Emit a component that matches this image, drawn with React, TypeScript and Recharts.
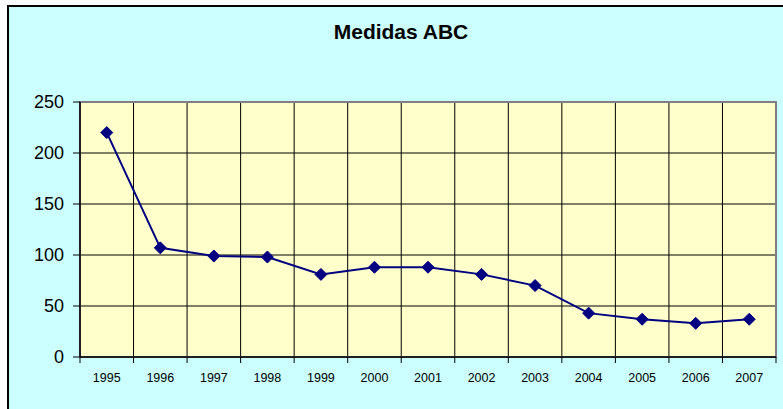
import React from 'react';
import { LineChart, Line, XAxis, YAxis, CartesianGrid, ReferenceArea } from 'recharts';

const years = ['1995', '1996', '1997', '1998', '1999', '2000', '2001', '2002', '2003', '2004', '2005', '2006', '2007'];
const medidas = [220, 107, 99, 98, 81, 88, 88, 81, 70, 43, 37, 33, 37];
const yTicks = [0, 50, 100, 150, 200, 250];

const data = years.map((year, i) => ({ year, slot: i + 0.5, value: medidas[i] }));
// boundaries between the year columns (vertical grid lines)
const edgeTicks = [...years.map((_, i) => i), years.length];

const NAVY = '#000080';
const LABEL_GAP = 16;

const Diamond = (props: any) => {
  const { cx, cy } = props;
  if (cx == null || cy == null) return null;
  const r = 6;
  return (
    <polygon
      points={`${cx},${cy - r} ${cx + r},${cy} ${cx},${cy + r} ${cx - r},${cy}`}
      fill={NAVY}
      stroke={NAVY}
      strokeWidth={1}
    />
  );
};

// year label centred in its column, small tick marks on the column edges
const YearTick = (props: any) => {
  const { x, y, payload, index, width, visibleTicksCount } = props;
  const band = width / visibleTicksCount;
  const axisY = y - LABEL_GAP;
  return (
    <g>
      <line x1={x - band / 2} x2={x - band / 2} y1={axisY} y2={axisY + 6} stroke="#000" />
      {index === visibleTicksCount - 1 && (
        <line x1={x + band / 2} x2={x + band / 2} y1={axisY} y2={axisY + 6} stroke="#000" />
      )}
      <text x={x} y={y} dy="0.71em" textAnchor="middle" fontSize={12.5} fill="#000">
        {payload.value}
      </text>
    </g>
  );
};

export default function App() {
  return (
    <div
      style={{
        position: 'absolute',
        left: 0,
        top: 0,
        width: 783,
        height: 409,
        background: '#ffffff',
        overflow: 'hidden',
        fontFamily: '"Liberation Sans", Arial, sans-serif',
      }}
    >
      <div
        style={{
          position: 'absolute',
          left: 7,
          top: 5,
          width: 800,
          height: 420,
          background: '#CCFFFF',
          borderLeft: '2px solid #000',
          borderTop: '2px solid #000',
        }}
      />
      <div
        style={{
          position: 'absolute',
          left: 401,
          top: 21,
          transform: 'translateX(-50%)',
          fontSize: 21,
          fontWeight: 'bold',
          lineHeight: 1,
          whiteSpace: 'nowrap',
          color: '#000',
        }}
      >
        Medidas ABC
      </div>
      <div style={{ position: 'absolute', left: 0, top: 0 }}>
        <LineChart
          width={783}
          height={409}
          data={data}
          margin={{ top: 102, right: 7, bottom: 22, left: 0 }}
          style={{ fontFamily: '"Liberation Sans", Arial, sans-serif' }}
        >
          <CartesianGrid
            xAxisId="edges"
            fill="#FFFFCC"
            fillOpacity={1}
            stroke="#000"
            strokeWidth={1}
          />
          <XAxis
            xAxisId="edges"
            dataKey="slot"
            type="number"
            domain={[0, years.length]}
            ticks={edgeTicks}
            interval={0}
            height={0}
            tick={{ fill: 'transparent', fontSize: 1 }}
            axisLine={false}
            tickLine={false}
          />
          <XAxis
            xAxisId="cat"
            dataKey="year"
            scale="band"
            interval={0}
            height={30}
            tickSize={0}
            tickMargin={LABEL_GAP}
            axisLine={{ stroke: '#000', strokeWidth: 1.5 }}
            tickLine={false}
            tick={<YearTick />}
          />
          <YAxis
            domain={[0, 250]}
            ticks={yTicks}
            interval={0}
            width={80}
            tickSize={7}
            tickMargin={9}
            axisLine={{ stroke: '#000', strokeWidth: 1.5 }}
            tickLine={{ stroke: '#000' }}
            tick={{ fontSize: 18, fill: '#000' }}
          />
          <ReferenceArea
            xAxisId="edges"
            x1={0}
            x2={years.length}
            y1={0}
            y2={250}
            fill="none"
            stroke="#808080"
            strokeWidth={2}
            ifOverflow="visible"
          />
          <Line
            xAxisId="cat"
            type="linear"
            dataKey="value"
            stroke={NAVY}
            strokeWidth={2}
            dot={<Diamond />}
            activeDot={false}
            isAnimationActive={false}
          />
        </LineChart>
      </div>
    </div>
  );
}
